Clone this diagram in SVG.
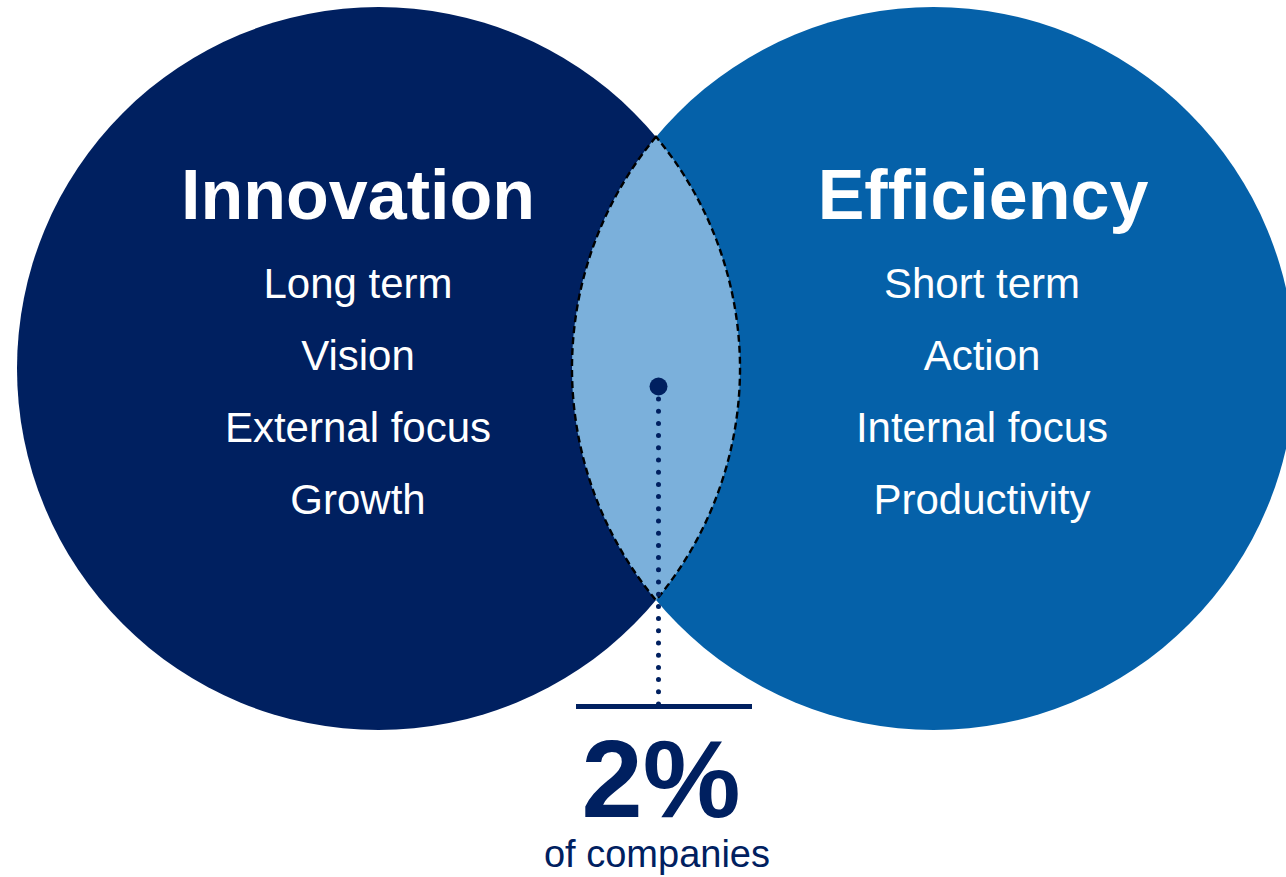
<svg xmlns="http://www.w3.org/2000/svg" width="1286" height="877" viewBox="0 0 1286 877">
<style>
.title{font-family:"Liberation Sans",Arial,sans-serif;font-weight:bold;font-size:70px;fill:#ffffff;text-anchor:middle}
.item{font-family:"Liberation Sans",Arial,sans-serif;font-size:42px;fill:#ffffff;text-anchor:middle}
.big{font-family:"Liberation Sans",Arial,sans-serif;font-weight:bold;font-size:110px;fill:#002060;text-anchor:middle}
.sub{font-family:"Liberation Sans",Arial,sans-serif;font-size:38px;fill:#002060;text-anchor:middle}
</style>
<rect width="1286" height="877" fill="#ffffff"/>
<g id="innovation">
<circle cx="378.5" cy="368.5" r="361.5" fill="#002060"/>
<text class="title" x="358" y="219">Innovation</text>
<text class="item" x="358" y="298">Long term</text>
<text class="item" x="358" y="370">Vision</text>
<text class="item" x="358" y="442">External focus</text>
<text class="item" x="358" y="514">Growth</text>
</g>
<g id="efficiency">
<circle cx="933.5" cy="368.5" r="361.5" fill="#0561A9"/>
<text class="title" x="983" y="219">Efficiency</text>
<text class="item" x="982" y="298">Short term</text>
<text class="item" x="982" y="370">Action</text>
<text class="item" x="982" y="442">Internal focus</text>
<text class="item" x="982" y="514">Productivity</text>
</g>
<g id="overlap">
<path d="M656,136.8 A361.5,361.5 0 0 0 656,600.2 A361.5,361.5 0 0 0 656,136.8 Z" fill="#7BB0DB" stroke="#000000" stroke-width="2.4" stroke-dasharray="7,4"/>
</g>
<g id="connectors">
<line x1="658.5" y1="399" x2="658.5" y2="706" stroke="#002060" stroke-width="5" stroke-linecap="round" stroke-dasharray="0,12.2"/>
<circle cx="658.5" cy="386.5" r="9" fill="#002060"/>
<line x1="576" y1="706.5" x2="752" y2="706.5" stroke="#002060" stroke-width="5"/>
</g>
<g id="stat">
<text class="big" x="661" y="817">2%</text>
<text class="sub" x="657" y="867">of companies</text>
</g>
</svg>
